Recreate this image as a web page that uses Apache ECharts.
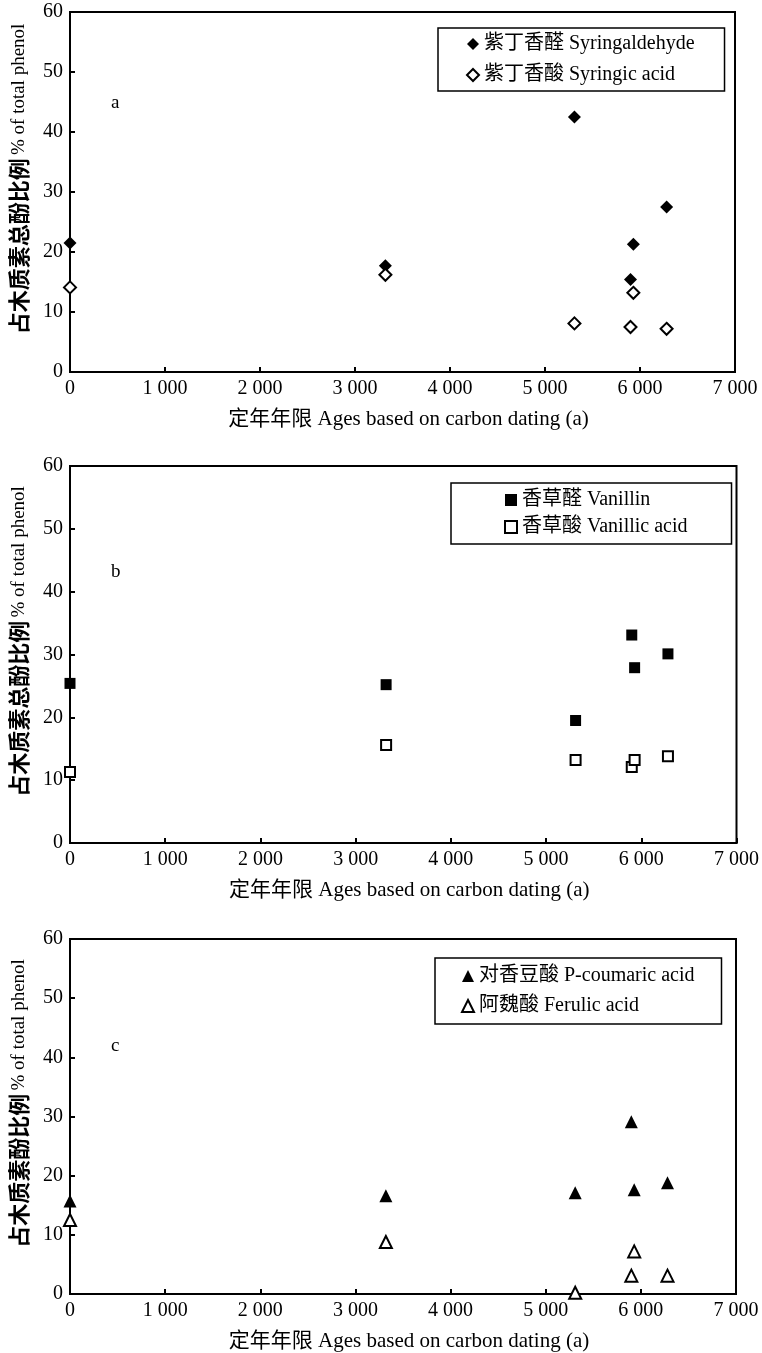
<!DOCTYPE html>
<html>
<head>
<meta charset="utf-8">
<style>
  html, body { margin: 0; padding: 0; background: #fff; }
  #main { width: 762px; height: 1353px; }
</style>
<script src="https://cdn.jsdelivr.net/npm/echarts@6/dist/echarts.min.js"></script>
</head>
<body>
<div id="main"></div>
<script>
// 样品定年年限 (a)
const ages = [0, 3320, 5310, 5900, 5930, 6280];
// a 紫丁香基
const syringaldehyde = [21.5, 17.7, 42.5, 15.4, 21.3, 27.5];
const syringicAcid = [14.1, 16.2, 8.1, 7.5, 13.2, 7.2];
// b 香草基
const vanillin = [25.4, 25.2, 19.5, 33.1, 27.9, 30.1];
const vanillicAcid = [11.3, 15.6, 13.2, 12.1, 13.2, 13.8];
// c 肉桂基
const pCoumaricAcid = [15.7, 16.6, 17.1, 29.1, 17.6, 18.8];
const ferulicAcid = [12.5, 8.8, 0.2, 3.1, 7.2, 3.1];

const panelLabels = ["a", "b", "c"];
const yNamesCn = ["占木质素总酚比例", "占木质素总酚比例", "占木质素酚比例"];
const yNameEn = "% of total phenol";
const xName = "定年年限 Ages based on carbon dating (a)";

const serif = "'Liberation Serif', 'Times New Roman', 'Noto Sans CJK SC', serif";

const pairs = (ys) => ages.map((x, i) => [x, ys[i]]);

// 三个面板的位置
const grids = [
  { left: 70, right: 27, top: 12, height: 360 },
  { left: 70, right: 22, top: 466, height: 377 },
  { left: 69, right: 26, top: 939, height: 359 }
];
const legendPos = [
  { left: 438, top: 28, gap: 11, padding: [6, 30, 6, 28] },
  { left: 451, top: 483, gap: 7, padding: [7, 44, 7, 53] },
  { left: 435, top: 958, gap: 10, padding: [8, 27, 8, 26] }
];

const seriesDefs = [
  { name: "紫丁香醛 Syringaldehyde", data: syringaldehyde, symbol: "diamond", size: 13, filled: true, panel: 0 },
  { name: "紫丁香酸 Syringic acid", data: syringicAcid, symbol: "diamond", size: 12, filled: false, panel: 0 },
  { name: "香草醛 Vanillin", data: vanillin, symbol: "rect", size: 11, filled: true, panel: 1 },
  { name: "香草酸 Vanillic acid", data: vanillicAcid, symbol: "rect", size: 10, filled: false, panel: 1 },
  { name: "对香豆酸 P-coumaric acid", data: pCoumaricAcid, symbol: "triangle", size: 13, filled: true, panel: 2 },
  { name: "阿魏酸 Ferulic acid", data: ferulicAcid, symbol: "triangle", size: 12, filled: false, panel: 2 }
];

const fmtX = (v) => String(v).replace(/\B(?=(\d{3})+(?!\d))/g, " ");

const chart = echarts.init(document.getElementById("main"));

chart.setOption({
  backgroundColor: "#fff",
  animation: false,
  title: panelLabels.map((t, i) => ({
    text: t,
    left: 106,
    top: grids[i].top + [77, 92, 93][i],
    textStyle: { fontFamily: serif, fontSize: 19, fontWeight: "normal", color: "#000" }
  })),
  legend: legendPos.map((p, i) => ({
    data: seriesDefs.filter((s) => s.panel === i).map((s) => s.name),
    orient: "vertical",
    left: p.left,
    top: p.top,
    padding: p.padding,
    itemGap: p.gap,
    itemWidth: 12,
    itemHeight: 12,
    borderColor: "#000",
    borderWidth: 1.5,
    borderRadius: 0,
    textStyle: { fontFamily: serif, fontSize: 20, color: "#000" }
  })),
  grid: grids.map((g) => ({
    left: g.left,
    right: g.right,
    top: g.top,
    height: g.height,
    show: true,
    borderColor: "#000",
    borderWidth: 2
  })),
  xAxis: grids.map((g, i) => ({
    type: "value",
    gridIndex: i,
    min: 0,
    max: 7000,
    interval: 1000,
    name: xName,
    nameLocation: "middle",
    nameGap: 37,
    nameTextStyle: { fontFamily: serif, fontSize: 21, color: "#000", padding: [0, 0, 0, 12] },
    axisLine: { lineStyle: { color: "#000", width: 2 } },
    axisTick: { inside: true, length: 5, lineStyle: { color: "#000", width: 2 } },
    axisLabel: { fontFamily: serif, fontSize: 20, color: "#000", margin: 7, formatter: fmtX },
    splitLine: { show: false }
  })),
  yAxis: grids.map((g, i) => ({
    type: "value",
    gridIndex: i,
    min: 0,
    max: 60,
    interval: 10,
    name: "{cn|" + yNamesCn[i] + "} {en|" + yNameEn + "}",
    nameLocation: "middle",
    nameGap: 40,
    nameTextStyle: {
      padding: [0, 0, 0, 26],
      rich: {
        cn: { fontFamily: "'Noto Sans CJK SC'", fontWeight: "bold", fontSize: 22, color: "#000" },
        en: { fontFamily: serif, fontSize: 19, color: "#000" }
      }
    },
    axisLine: { lineStyle: { color: "#000", width: 2 } },
    axisTick: { inside: true, length: 5, lineStyle: { color: "#000", width: 2 } },
    axisLabel: { fontFamily: serif, fontSize: 20, color: "#000", margin: 7 },
    splitLine: { show: false }
  })),
  series: seriesDefs.map((s) => ({
    name: s.name,
    type: "scatter",
    xAxisIndex: s.panel,
    yAxisIndex: s.panel,
    symbol: s.symbol,
    symbolSize: s.size,
    data: pairs(s.data),
    clip: false,
    itemStyle: s.filled
      ? { color: "#000", borderColor: "#000", borderWidth: 0, opacity: 1 }
      : { color: "#fff", borderColor: "#000", borderWidth: 2, opacity: 1 }
  }))
});
</script>
</body>
</html>
